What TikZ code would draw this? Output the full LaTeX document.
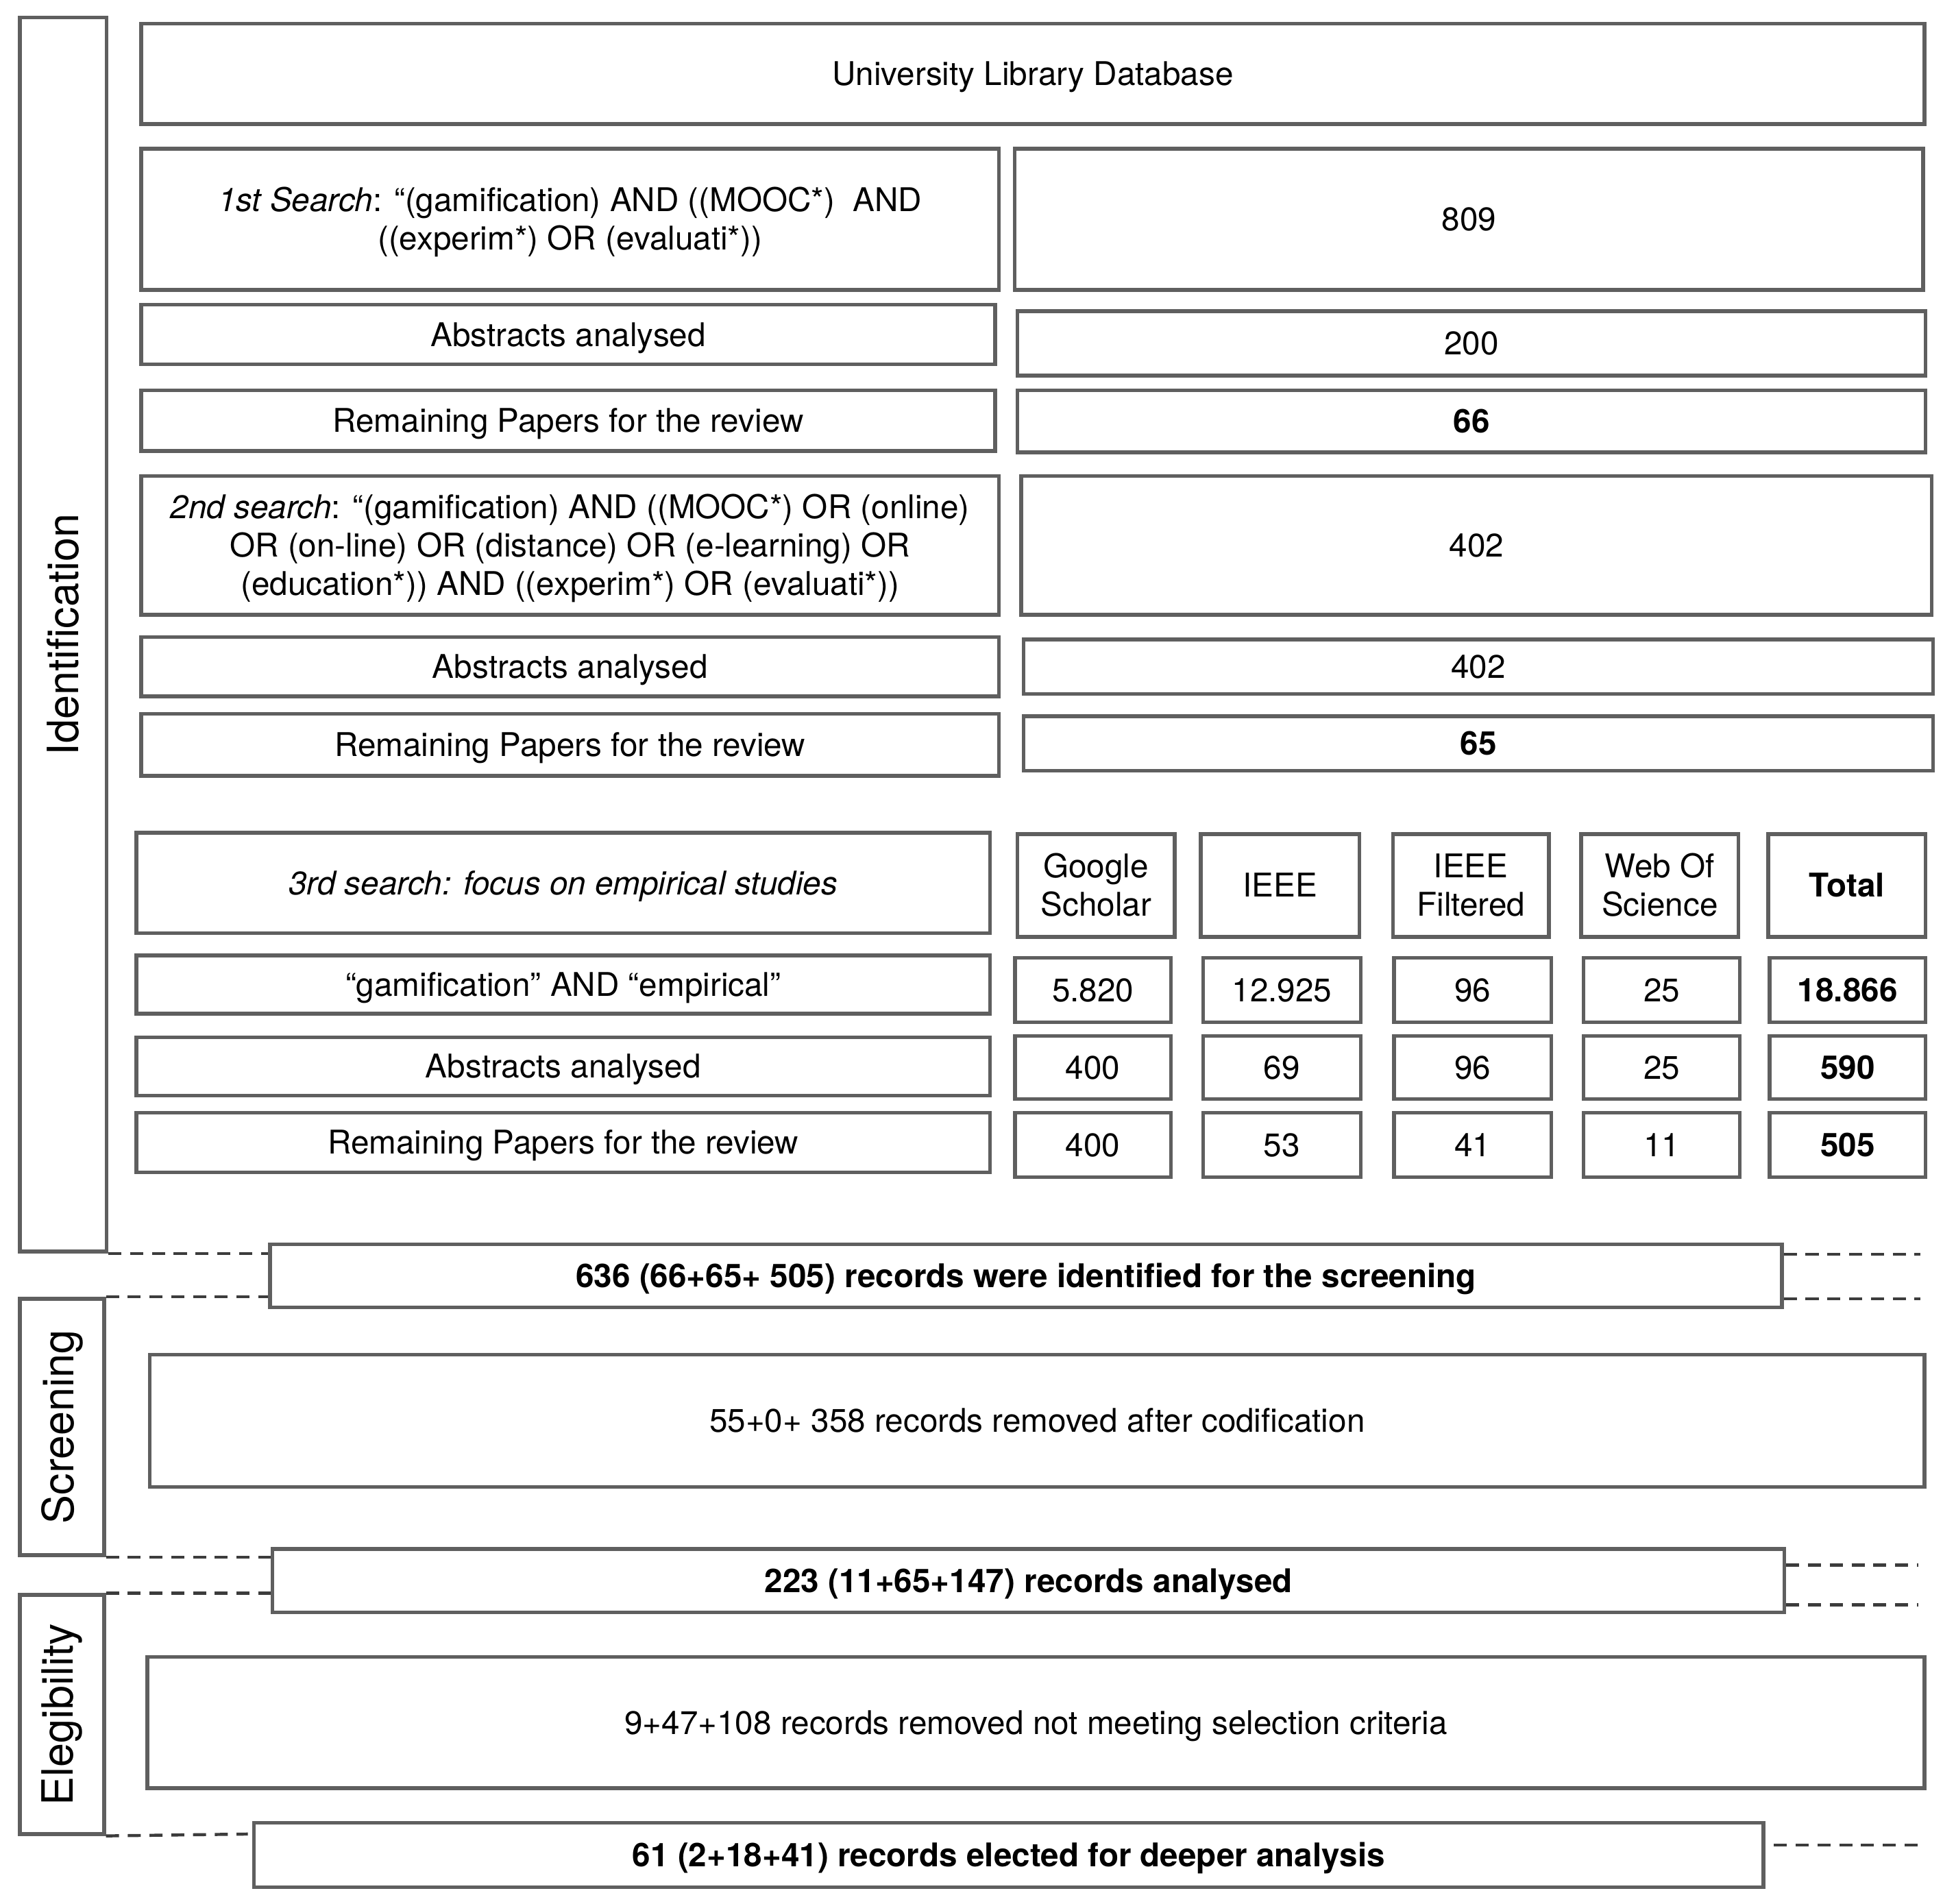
\documentclass[tikz,border=0pt]{standalone}
\usepackage{fontspec}
\setmainfont{TeX Gyre Heros}
\usetikzlibrary{calc}
\definecolor{boxline}{HTML}{5F5F5F}
\definecolor{dashline}{HTML}{3C3C3C}
\tikzset{
  box/.style={draw=boxline, line width=1.7pt, rectangle, inner sep=0pt, align=center,
    text height=10.6pt, text depth=0pt,
    font=\fontsize{15}{17.6}\selectfont},
  twolines/.style={text height=28.2pt, text depth=0pt},
  threelines/.style={text height=45.8pt, text depth=0pt},
  phaselabel/.style={rotate=90, font=\fontsize{19.8}{22}\selectfont},
  sep/.style={draw=dashline, line width=1.4pt, dash pattern=on 6pt off 4pt}
}
\newcommand{\bx}[7][]{%
  \pgfmathsetmacro\bxw{(#5-#3)*0.02}%
  \pgfmathsetmacro\bxh{(#6-#4)*0.02}%
  \node[box, minimum width=\bxw cm, minimum height=\bxh cm, #1] (#2) at ({(#3+#5)/2},{(#4+#6)/2}) {#7};}
\begin{document}
\begin{tikzpicture}[x=0.02cm, y=-0.02cm]
\useasboundingbox (0,0) rectangle (1568,1536);
% phase boxes
\bx{ident}{16}{14}{86}{1010}{}
\bx{screen}{16}{1048}{84}{1255}{}
\bx{elig}{16}{1287}{84}{1480}{}
\node[phaselabel] (identl) at (ident.center) {Identification};
\node[phaselabel] (screenl) at (screen.center) {Screening};
\node[phaselabel] (eligl) at (elig.center) {Elegibility};
% top
\bx{univ}{114}{19}{1553}{100}{University Library Database}
\bx[twolines]{s1}{114}{120}{806}{234}{\textit{1st Search}: “(gamification) AND ((MOOC*)\ \ AND\\((experim*) OR (evaluati*))}
\bx{n809}{819}{120}{1552}{234}{809}
\bx{a1}{114}{246}{803}{294}{Abstracts analysed}
\bx{n200}{821}{251}{1554}{303}{200}
\bx{r1}{114}{315}{803}{364}{Remaining Papers for the review}
\bx{n66}{821}{315}{1554}{365}{\bfseries 66}
\bx[threelines]{s2}{114}{384}{806}{496}{\textit{2nd search}: “(gamification) AND ((MOOC*) OR (online)\\OR (on-line) OR (distance) OR (e-learning) OR\\(education*)) AND ((experim*) OR (evaluati*))}
\bx{n402a}{824}{384}{1559}{496}{402}
\bx{a2}{114}{514}{806}{562}{Abstracts analysed}
\bx{n402b}{826}{516}{1560}{560}{402}
\bx{r2}{114}{576}{806}{626}{Remaining Papers for the review}
\bx{n65}{826}{578}{1560}{622}{\bfseries 65}
% third search
\bx{s3}{110}{672}{799}{753}{\itshape 3rd search: focus on empirical studies}
\bx[twolines]{h1}{821}{673}{948}{756}{Google\\Scholar}
\bx{h2}{969}{673}{1097}{756}{IEEE}
\bx[twolines]{h3}{1124}{673}{1250}{756}{IEEE\\Filtered}
\bx[twolines]{h4}{1276}{673}{1403}{756}{Web Of\\Science}
\bx{h5}{1427}{673}{1554}{756}{\bfseries Total}
\bx{g}{110}{771}{799}{818}{“gamification” AND “empirical”}
\bx{g1}{819}{773}{945}{825}{5.820}
\bx{g2}{971}{773}{1098}{825}{12.925}
\bx{g3}{1125}{773}{1252}{825}{96}
\bx{g4}{1278}{773}{1404}{825}{25}
\bx{g5}{1428}{773}{1554}{825}{\bfseries 18.866}
\bx{a3}{110}{837}{799}{884}{Abstracts analysed}
\bx{b1}{819}{836}{945}{887}{400}
\bx{b2}{971}{836}{1098}{887}{69}
\bx{b3}{1125}{836}{1252}{887}{96}
\bx{b4}{1278}{836}{1404}{887}{25}
\bx{b5}{1428}{836}{1554}{887}{\bfseries 590}
\bx{r3}{110}{898}{799}{946}{Remaining Papers for the review}
\bx{c1}{819}{898}{945}{950}{400}
\bx{c2}{971}{898}{1098}{950}{53}
\bx{c3}{1125}{898}{1252}{950}{41}
\bx{c4}{1278}{898}{1404}{950}{11}
\bx{c5}{1428}{898}{1554}{950}{\bfseries 505}
% summary boxes
\bx{t636}{218}{1004}{1438}{1055}{\bfseries 636 (66+65+ 505) records were identified for the screening}
\bx{scr}{121}{1093}{1553}{1200}{55+0+ 358 records removed after codification}
\bx{t223}{220}{1250}{1440}{1301}{\bfseries 223 (11+65+147) records analysed}
\bx{eli}{119}{1337}{1553}{1443}{9+47+108 records removed not meeting selection criteria}
\bx{t61}{205}{1471}{1423}{1523}{\bfseries 61 (2+18+41) records elected for deeper analysis}
% dashed separators
\coordinate (e1) at (1550,1012);
\coordinate (e2) at (1550,1048);
\coordinate (e3) at (1548,1263);
\coordinate (e4) at (1548,1295);
\coordinate (e5) at (1548,1489);
\coordinate (d5) at (200,1480);
\draw[sep] (ident.south east) -- (ident.south east -| t636.west);
\draw[sep] (screen.north east) -- (screen.north east -| t636.west);
\draw[sep] (screen.south east) -- (screen.south east -| t223.west);
\draw[sep] (elig.north east) -- (elig.north east -| t223.west);
\draw[sep] (elig.south east) -- (d5);
\draw[sep] (e1 -| t636.east) -- (e1);
\draw[sep] (e2 -| t636.east) -- (e2);
\draw[sep] (e3 -| t223.east) -- (e3);
\draw[sep] (e4 -| t223.east) -- (e4);
\draw[sep] ([xshift=0.14cm]e5 -| t61.east) -- (e5);
\end{tikzpicture}
\end{document}
